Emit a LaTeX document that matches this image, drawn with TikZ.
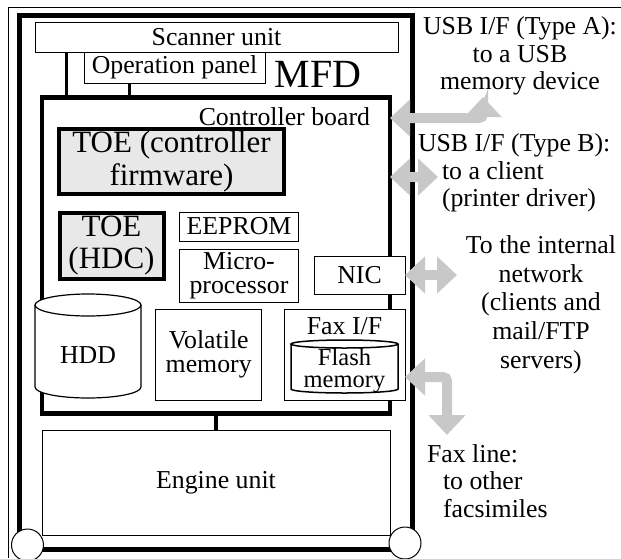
\documentclass[tikz,border=0pt]{standalone}
\usepackage{fontspec}
\setmainfont{Liberation Serif}
\usetikzlibrary{arrows.meta,positioning}

\begin{document}
\begin{tikzpicture}[x=1pt, y=-1pt,
  >={Triangle[width=36pt,length=20pt]},
  every node/.style={font=\fontsize{25.8}{27.5}\selectfont, inner sep=0pt, outer sep=0pt},
  unitbox/.style={draw=black, line width=1pt, fill=white},
  toebox/.style={draw=black, line width=4pt, fill=toegray, align=center, font=\fontsize{31}{32.5}\selectfont},
  bus/.style={draw=black, line width=3.3pt},
  port/.style={draw=portgray, line width=10pt, rounded corners=4pt, <->},
  wheel/.style={circle, draw=black, line width=1pt, fill=white, minimum size=32pt},
  note/.style={align=center, font=\fontsize{25.8}{27.5}\selectfont}]

\definecolor{toegray}{RGB}{232,232,232}
\definecolor{portgray}{RGB}{200,200,200}

\useasboundingbox (0,0) rectangle (621,558);

% page frame
\draw[line width=1pt] (8,558) -- (8,7) -- (621,7);

% MFD housing
\node[draw, line width=5pt, minimum width=392.5pt, minimum height=534pt] (mfd) at (215.75,282.5) {};
\node[unitbox, minimum width=363pt, minimum height=30pt] (scanner) at (216.5,37) {Scanner unit};
\node[unitbox, minimum width=181pt, minimum height=31pt] (panel) at (174.5,67.5) {Operation panel};
\node[font=\fontsize{40}{40}\selectfont] (mfdlabel) at (318,74) {MFD};

% Controller board
\node[draw, line width=4.5pt, minimum width=348pt, minimum height=316pt] (ctrl) at (216,255.5) {};
\node[anchor=east] (ctrllabel) at (370,116.5) {Controller board};

\node[toebox, minimum width=225pt, minimum height=65pt] (toefw) at (171.5,161.5) {TOE (controller\\firmware)};
\node[toebox, minimum width=104pt, minimum height=66pt] (toehdc) at (111.5,245.5) {TOE\\(HDC)};
\node[unitbox, minimum width=119pt, minimum height=29pt] (eeprom) at (239,226.5) {EEPROM};
\node[unitbox, minimum width=119pt, minimum height=53pt, align=center, font=\fontsize{25.8}{23.5}\selectfont] (cpu) at (239,275.5) {Micro-\\processor};
\node[unitbox, minimum width=91pt, minimum height=38pt] (nic) at (359.5,275) {NIC};
\node[unitbox, minimum width=106pt, minimum height=91pt, align=center, font=\fontsize{25.8}{24}\selectfont] (ram) at (208.7,354.7) {Volatile\\memory};

% Fax I/F with its flash memory
\node[unitbox, minimum width=121pt, minimum height=91pt] (fax) at (344.5,354.7) {};
\node[below=8pt of fax.north] (faxlabel) {Fax I/F};
\draw[line width=1.5pt, fill=white] (291,344) -- (291,389) arc[start angle=180, end angle=0, x radius=53.5, y radius=4] -- (398,344);
\draw[line width=1.5pt, fill=white] (344.5,344) ellipse [x radius=53.5, y radius=4];
\node[align=center, font=\fontsize{24.5}{22.5}\selectfont] (flash) at (344.5,370.5) {Flash\\memory};

% HDD
\draw[line width=1.2pt, fill=white] (35,305) -- (35,387) arc[start angle=180, end angle=0, x radius=53, y radius=11] -- (141,305);
\draw[line width=1.2pt, fill=white] (88,305) ellipse [x radius=53, y radius=11];
\node (hdd) at (88,355) {HDD};

% Engine unit and wheels
\node[unitbox, minimum width=348pt, minimum height=105pt] (engine) at (216,482.5) {Engine unit};
\node[wheel] (lwheel) at (27.5,545) {};
\node[wheel] (rwheel) at (405,543) {};

% internal buses
\draw[bus] ([xshift=31.5pt]scanner.south west) -- ([xshift=31.5pt]scanner.south west |- ctrl.north);
\draw[bus] ([xshift=-45pt]panel.south) -- ([xshift=-45pt]panel.south |- ctrl.north);
\draw[bus] (ctrl.south) -- (engine.north);

% external interfaces
\coordinate (usbA) at (483,97);
\coordinate (usbAbend) at (483,118);
\coordinate (usbB) at (438,177);
\coordinate (lan) at (457,275);
\coordinate (faxbend) at (447,377);
\coordinate (faxline) at (447,435);
\draw[port] (ctrl.east |- usbAbend) -- (usbAbend) -- (usbA);
\draw[port] (ctrl.east |- usbB) -- (usbB);
\draw[port] (nic.east) -- (lan);
\draw[port] (fax.east |- faxbend) -- (faxbend) -- (faxline);

\node[note, anchor=north] (usbAnote) at (520,17) {USB I/F (Type A):\\to a USB\\memory device};
\node[align=left, anchor=north west] (usbBnote) at (418,134) {USB I/F (Type B):\\\hspace*{24pt}to a client\\\hspace*{24pt}(printer driver)};
\node[note, anchor=north, font=\fontsize{25.8}{28.7}\selectfont] (lannote) at (541,235.5) {To the internal\\network\\(clients and\\mail/FTP\\servers)};
\node[align=left, anchor=north west] (faxnote) at (427,444.5) {Fax line:\\\hspace*{16pt}to other\\\hspace*{16pt}facsimiles};

\end{tikzpicture}
\end{document}
